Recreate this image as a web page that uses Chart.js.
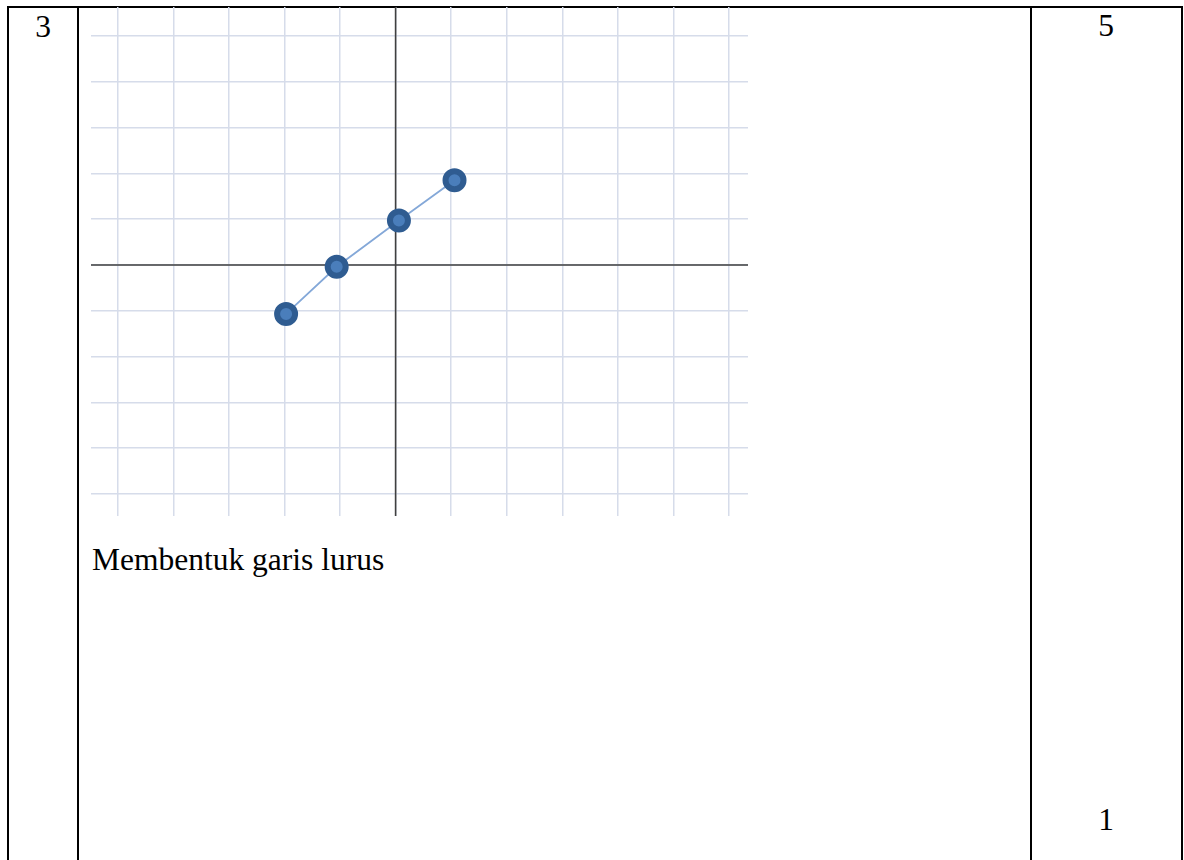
<!DOCTYPE html>
<html>
<head>
<meta charset="utf-8">
<script src="https://cdn.jsdelivr.net/npm/chart.js@4.4.1/dist/chart.umd.min.js"></script>
<style>
  html, body { margin: 0; padding: 0; background: #fff; }
  body { width: 1184px; height: 860px; position: relative; overflow: hidden;
         font-family: "Liberation Serif", "Times New Roman", serif; color: #000; }
  .line { position: absolute; background: #000; }
  .txt { position: absolute; font-size: 31.5px; line-height: 31.5px; white-space: nowrap; }
  #wrap { position: absolute; left: 91px; top: 7px; width: 657px; height: 509px; }
</style>
</head>
<body>
<!-- table borders -->
<div class="line" style="left:7px;top:6px;width:1176px;height:2px;"></div>
<div class="line" style="left:7px;top:6px;width:2px;height:854px;"></div>
<div class="line" style="left:77px;top:6px;width:2px;height:854px;"></div>
<div class="line" style="left:1030px;top:6px;width:2px;height:854px;"></div>
<div class="line" style="left:1181px;top:6px;width:2px;height:854px;"></div>

<div class="txt" style="left:8px;width:70px;top:10.5px;text-align:center;">3</div>
<div class="txt" style="left:1031px;width:150px;top:9.5px;text-align:center;">5</div>
<div class="txt" style="left:1031px;width:150px;top:803.5px;text-align:center;">1</div>
<div class="txt" style="left:92px;top:543.5px;">Membentuk garis lurus</div>

<div id="wrap"><canvas id="chart"></canvas></div>

<script>
// points
const xValues = [-1.97, -1.06, 0.06, 1.06];
const yValues = [-1.07, -0.04, 0.97, 1.85];

// grid lines
const xTicks = [-5, -4, -3, -2, -1, 0, 1, 2, 3, 4, 5, 6];
const yTicks = [-5, -4, -3, -2, -1, 0, 1, 2, 3, 4, 5];

const GRID = "#d6dcea";
const AXIS = "#404040";

// zero lines drawn on top of the grid so the light lines don't cut them
const zeroLines = {
  id: "zeroLines",
  beforeDatasetsDraw(chart) {
    const { ctx, chartArea: a, scales: { x, y } } = chart;
    const px = x.getPixelForValue(0);
    const py = y.getPixelForValue(0);
    ctx.save();
    ctx.strokeStyle = AXIS;
    ctx.lineWidth = 1.6;
    ctx.beginPath();
    ctx.moveTo(px, a.top); ctx.lineTo(px, a.bottom);
    ctx.moveTo(a.left, py); ctx.lineTo(a.right, py);
    ctx.stroke();
    ctx.restore();
  }
};

const points = xValues.map((v, i) => ({ x: v, y: yValues[i] }));

new Chart(document.getElementById("chart"), {
  type: "scatter",
  data: {
    datasets: [{
      data: points,
      showLine: true,
      borderColor: "#84a8d8",
      borderWidth: 1.8,
      pointRadius: 9,
      pointHoverRadius: 9,
      pointBorderWidth: 6,
      pointBorderColor: "#2f5c91",
      pointBackgroundColor: "#4a7ebb"
    }]
  },
  options: {
    responsive: true,
    maintainAspectRatio: false,
    animation: false,
    layout: { padding: 0, autoPadding: false },
    plugins: { legend: { display: false }, tooltip: { enabled: false } },
    scales: {
      x: {
        type: "linear",
        min: -5.48, max: 6.34,
        afterBuildTicks: s => { s.ticks = xTicks.map(v => ({ value: v })); },
        ticks: { display: false },
        grid: { color: GRID, lineWidth: 1.5, drawTicks: false },
        border: { display: false }
      },
      y: {
        type: "linear",
        min: -5.48, max: 5.63,
        afterBuildTicks: s => { s.ticks = yTicks.map(v => ({ value: v })); },
        ticks: { display: false },
        grid: { color: GRID, lineWidth: 1.5, drawTicks: false },
        border: { display: false }
      }
    }
  },
  plugins: [zeroLines]
});
</script>
</body>
</html>
